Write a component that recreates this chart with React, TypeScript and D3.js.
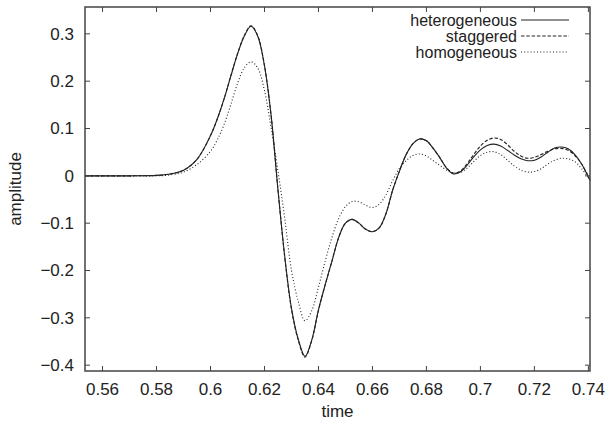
import { useEffect, useRef } from 'react';
import * as d3 from 'd3';

// sample times shared by the three series
const times = [
  0.5535, 0.57, 0.58, 0.585, 0.59, 0.595, 0.6, 0.6025, 0.605, 0.6075, 0.61, 0.6125, 0.615,
  0.6175, 0.62, 0.6225, 0.625, 0.6275, 0.63, 0.6325, 0.635, 0.6375, 0.64, 0.6425, 0.645,
  0.6475, 0.65, 0.6525, 0.655, 0.6575, 0.66, 0.6625, 0.665, 0.6675, 0.67, 0.6725, 0.675,
  0.6775, 0.68, 0.6825, 0.685, 0.6875, 0.69, 0.6925, 0.695, 0.6975, 0.7, 0.7025, 0.705,
  0.7075, 0.71, 0.7125, 0.715, 0.7175, 0.72, 0.7225, 0.725, 0.7275, 0.73, 0.7325, 0.735,
  0.7375, 0.7406,
];

const heterogeneous = [
  0, 0, 0.001, 0.004, 0.012, 0.035, 0.085, 0.12, 0.162, 0.21, 0.257, 0.295, 0.316,
  0.295, 0.232, 0.125, -0.03, -0.17, -0.28, -0.345, -0.381, -0.347, -0.283, -0.23, -0.18,
  -0.13, -0.1, -0.092, -0.1, -0.113, -0.118, -0.11, -0.08, -0.03, 0.01, 0.045, 0.068,
  0.078, 0.074, 0.058, 0.038, 0.016, 0.004, 0.008, 0.022, 0.04, 0.055, 0.064, 0.067,
  0.063, 0.054, 0.044, 0.036, 0.032, 0.033, 0.04, 0.05, 0.059, 0.061, 0.057, 0.045,
  0.025, -0.01,
];

const staggered = [
  0, 0, 0.001, 0.004, 0.012, 0.035, 0.085, 0.12, 0.162, 0.211, 0.258, 0.296, 0.317,
  0.296, 0.233, 0.125, -0.03, -0.172, -0.282, -0.347, -0.383, -0.348, -0.284, -0.23, -0.18,
  -0.13, -0.1, -0.092, -0.1, -0.113, -0.118, -0.11, -0.08, -0.03, 0.01, 0.045, 0.068,
  0.078, 0.074, 0.058, 0.038, 0.017, 0.006, 0.01, 0.025, 0.045, 0.063, 0.075, 0.08,
  0.077, 0.066, 0.052, 0.042, 0.037, 0.039, 0.045, 0.052, 0.057, 0.058, 0.054, 0.043,
  0.025, -0.008,
];

const homogeneous = [
  0, 0, 0, 0.002, 0.008, 0.024, 0.052, 0.076, 0.108, 0.15, 0.195, 0.228, 0.241,
  0.228, 0.18, 0.1, 0.01, -0.09, -0.2, -0.265, -0.306, -0.285, -0.235, -0.18, -0.13,
  -0.09, -0.065, -0.054, -0.055, -0.062, -0.067, -0.06, -0.04, -0.01, 0.016, 0.032, 0.043,
  0.046, 0.042, 0.032, 0.022, 0.012, 0.006, 0.007, 0.016, 0.03, 0.043, 0.05, 0.051,
  0.045, 0.033, 0.021, 0.012, 0.008, 0.009, 0.015, 0.025, 0.033, 0.037, 0.036, 0.03,
  0.015, -0.008,
];

const xTicks = [0.56, 0.58, 0.6, 0.62, 0.64, 0.66, 0.68, 0.7, 0.72, 0.74];
const yTicks = [-0.4, -0.3, -0.2, -0.1, 0, 0.1, 0.2, 0.3];

const seriesNames = ['heterogeneous', 'staggered', 'homogeneous'];
const seriesValues = [heterogeneous, staggered, homogeneous];
const seriesDash = ['none', '3.5,1.8', '1,2.2'];

const W = 605;
const H = 423;

const App = () => {
  const svgRef = useRef<SVGSVGElement | null>(null);

  useEffect(() => {
    if (!svgRef.current) return;
    const svg = d3.select(svgRef.current);
    svg.selectAll('*').remove();

    const margin = { top: 7, right: 15, bottom: 52, left: 85 };
    const innerWidth = W - margin.left - margin.right;
    const innerHeight = H - margin.top - margin.bottom;
    const font = 'Liberation Sans, Arial, sans-serif';
    const axisColor = '#444';

    const x = d3.scaleLinear().domain([0.5535, 0.7406]).range([0, innerWidth]);
    const y = d3.scaleLinear().domain([-0.4123, 0.3567]).range([innerHeight, 0]);

    const g = svg.append('g').attr('transform', `translate(${margin.left},${margin.top})`);

    // curves
    const line = d3.line<number>()
      .x((_, i) => x(times[i]))
      .y(d => y(d))
      .curve(d3.curveCatmullRom.alpha(0.5));

    seriesValues.forEach((vals, i) => {
      g.append('path')
        .datum(vals)
        .attr('fill', 'none')
        .attr('stroke', '#222')
        .attr('stroke-width', 1.1)
        .attr('stroke-dasharray', seriesDash[i])
        .attr('d', line);
    });

    // ticks, mirrored on all sides, pointing inward
    const tl = 5;
    xTicks.forEach(t => {
      const px = x(t);
      g.append('line').attr('x1', px).attr('x2', px).attr('y1', innerHeight).attr('y2', innerHeight - tl)
        .attr('stroke', axisColor);
      g.append('line').attr('x1', px).attr('x2', px).attr('y1', 0).attr('y2', tl)
        .attr('stroke', axisColor);
      g.append('text')
        .attr('x', px)
        .attr('y', innerHeight + 24)
        .attr('text-anchor', 'middle')
        .style('font-family', font)
        .style('font-size', '17px')
        .attr('fill', '#222')
        .text(d3.format('')(t));
    });

    yTicks.forEach(t => {
      const py = y(t);
      g.append('line').attr('x1', 0).attr('x2', tl).attr('y1', py).attr('y2', py)
        .attr('stroke', axisColor);
      g.append('line').attr('x1', innerWidth).attr('x2', innerWidth - tl).attr('y1', py).attr('y2', py)
        .attr('stroke', axisColor);
      g.append('text')
        .attr('x', -11)
        .attr('y', py)
        .attr('dy', '0.35em')
        .attr('text-anchor', 'end')
        .style('font-family', font)
        .style('font-size', '17px')
        .attr('fill', '#222')
        .text(d3.format('')(t));
    });

    // frame
    g.append('rect')
      .attr('width', innerWidth)
      .attr('height', innerHeight)
      .attr('fill', 'none')
      .attr('stroke', axisColor)
      .attr('stroke-width', 1.5);

    // axis titles
    svg.append('text')
      .attr('x', margin.left + innerWidth / 2)
      .attr('y', 417)
      .attr('text-anchor', 'middle')
      .style('font-family', font)
      .style('font-size', '17px')
      .attr('fill', '#222')
      .text('time');

    svg.append('text')
      .attr('transform', `translate(21,${margin.top + innerHeight / 2}) rotate(-90)`)
      .attr('text-anchor', 'middle')
      .style('font-family', font)
      .style('font-size', '17px')
      .attr('fill', '#222')
      .text('amplitude');

    // legend
    const legend = svg.append('g').attr('transform', `translate(517, 20)`);
    seriesNames.forEach((name, i) => {
      const row = legend.append('g').attr('transform', `translate(0, ${i * 16})`);
      row.append('text')
        .attr('x', 0)
        .attr('y', 0)
        .attr('dy', '0.35em')
        .attr('text-anchor', 'end')
        .style('font-family', font)
        .style('font-size', '16px')
        .attr('fill', '#222')
        .text(name);
      row.append('line')
        .attr('x1', 4)
        .attr('x2', 52)
        .attr('y1', 0)
        .attr('y2', 0)
        .attr('stroke', '#222')
        .attr('stroke-width', 1.1)
        .attr('stroke-dasharray', seriesDash[i]);
    });
  }, []);

  return (
    <svg
      ref={svgRef}
      width={W}
      height={H}
      style={{ position: 'absolute', left: 0, top: 0, background: '#fff' }}
    />
  );
};

export default App;
